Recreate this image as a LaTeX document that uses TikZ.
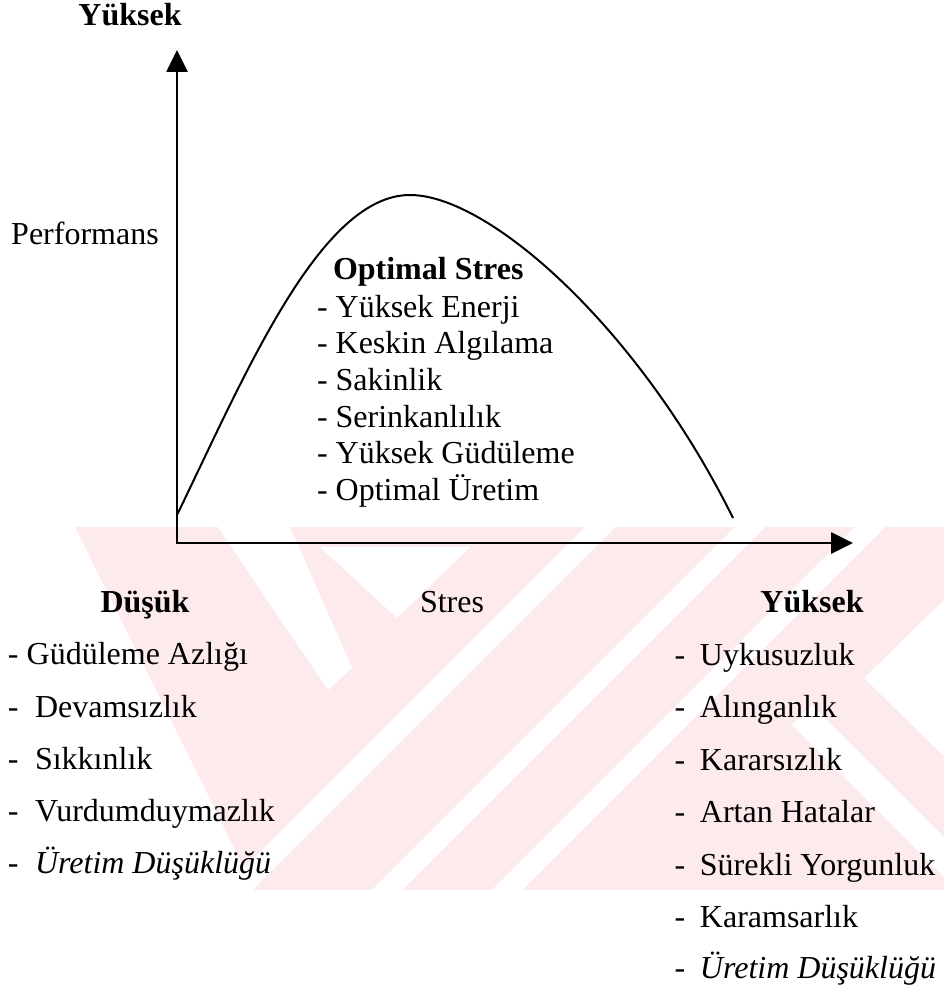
\documentclass[tikz,border=0pt]{standalone}
\usepackage{fontspec}
\setmainfont{Liberation Serif}
\usetikzlibrary{arrows.meta}
\definecolor{wmpink}{RGB}{253,234,237}
\tikzset{
  lbl/.style={inner sep=0pt, outer sep=0pt, font=\fontsize{16}{19}\selectfont},
  head/.style={inner sep=0pt, outer sep=0pt, font=\fontsize{16}{19}\selectfont\bfseries},
  itl/.style={inner sep=0pt, outer sep=0pt, font=\fontsize{16}{19}\selectfont\itshape},
  axisline/.style={line width=1.35pt, {Triangle[length=11pt,width=10.5pt]}-{Triangle[length=11pt,width=10.5pt]}},
  curveline/.style={line width=1pt},
  gap/.style={fill=white},
}
\begin{document}
\begin{tikzpicture}[x=0.5pt,y=-0.5pt]
\useasboundingbox (0,0) rectangle (944,994);

% background band with diagonal stripes
\begin{scope}
  \clip (0,527) rectangle (944,890);
  \fill[wmpink] (0,527) rectangle (944,890);
  \fill[gap] (0,527) -- (75,527) -- (255,890) -- (0,890) -- cycle;
  \fill[gap] (218,527) -- (290,527) -- (352,668) -- (328,690) -- cycle;
  \fill[gap] (320,547) -- (470,547) -- (397,618) -- cycle;
  \fill[gap] (585,527) -- (615,527) -- (252,890) -- (222,890) -- cycle;
  \fill[gap] (735,527) -- (765,527) -- (402,890) -- (372,890) -- cycle;
  \fill[gap] (855,527) -- (885,527) -- (522,890) -- (492,890) -- cycle;
  \fill[gap] (944,600) -- (864,678) -- (944,756) -- cycle;
  \fill[gap] (812,705) -- (792,725) -- (944,877) -- (944,837) -- cycle;
\end{scope}

% axes
\coordinate (ytip) at (177,50);
\coordinate (origin) at (177,543);
\coordinate (xtip) at (853,543);
\draw[axisline] (ytip) |- (xtip);

% performance curve
\coordinate (cstart) at (177,515);
\coordinate (cpeak) at (410,195);
\coordinate (cend) at (733,518);
\draw[curveline] (cstart) .. controls (245,375) and (320,195) .. (cpeak)
  .. controls (490,195) and (640,330) .. (cend);

% axis labels
\node[head, anchor=base] (ytop) at (130,26) {Yüksek};
\node[lbl, anchor=base] (perf) at (85,245) {Performans};
\node[head, anchor=base] (xlow) at (145,612) {Düşük};
\node[lbl, anchor=base] (xmid) at (452,612) {Stres};
\node[head, anchor=base] (xhigh) at (812,612) {Yüksek};

% optimal stress block
\node[head, anchor=base west] (opt) at (333,280) {Optimal Stres};
\node[lbl, anchor=base west] (opt1) at (317,317) {- Yüksek Enerji};
\node[lbl, anchor=base west] (opt2) at (317,353) {- Keskin Algılama};
\node[lbl, anchor=base west] (opt3) at (317,390) {- Sakinlik};
\node[lbl, anchor=base west] (opt4) at (317,427) {- Serinkanlılık};
\node[lbl, anchor=base west] (opt5) at (317,463) {- Yüksek Güdüleme};
\node[lbl, anchor=base west] (opt6) at (317,500) {- Optimal Üretim};

% low stress list
\node[lbl, anchor=base west] (low1) at (8,664) {- Güdüleme Azlığı};
\node[lbl, anchor=base west] (low2) at (8,717) {-\hspace{8.2pt}Devamsızlık};
\node[lbl, anchor=base west] (low3) at (8,769) {-\hspace{8.2pt}Sıkkınlık};
\node[lbl, anchor=base west] (low4) at (8,821) {-\hspace{8.2pt}Vurdumduymazlık};
\node[lbl, anchor=base west] (low5) at (8,873) {-\hspace{8.2pt}\textit{Üretim Düşüklüğü}};

% high stress list
\node[lbl, anchor=base west] (high1) at (674.5,665) {-\hspace{7.4pt}Uykusuzluk};
\node[lbl, anchor=base west] (high2) at (674.5,717) {-\hspace{7.4pt}Alınganlık};
\node[lbl, anchor=base west] (high3) at (674.5,770) {-\hspace{7.4pt}Kararsızlık};
\node[lbl, anchor=base west] (high4) at (674.5,822) {-\hspace{7.4pt}Artan Hatalar};
\node[lbl, anchor=base west] (high5) at (674.5,875) {-\hspace{7.4pt}Sürekli Yorgunluk};
\node[lbl, anchor=base west] (high6) at (674.5,927) {-\hspace{7.4pt}Karamsarlık};
\node[lbl, anchor=base west] (high7) at (674.5,978) {-\hspace{7.4pt}\textit{Üretim Düşüklüğü}};
\end{tikzpicture}
\end{document}
